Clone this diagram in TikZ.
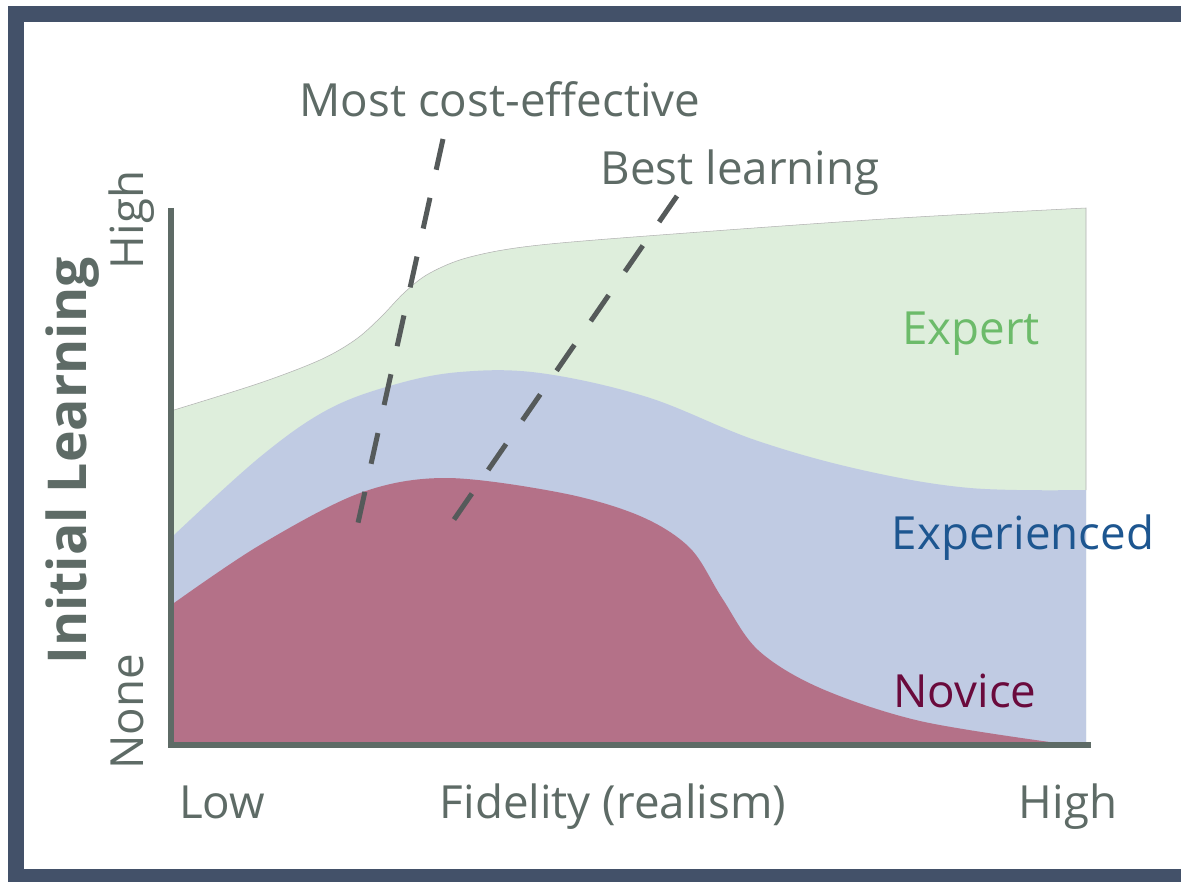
\documentclass[tikz,border=0pt]{standalone}
\usepackage{fontspec}
\setmainfont{Open Sans}
\usetikzlibrary{calc}
\definecolor{framecol}{HTML}{435169}
\definecolor{axiscol}{HTML}{5E6B66}
\definecolor{dashcol}{HTML}{555A5A}
\definecolor{expertfill}{HTML}{DEEEDC}
\definecolor{expfill}{HTML}{C0CBE3}
\definecolor{novfill}{HTML}{B47188}
\definecolor{experttext}{HTML}{6CBB6A}
\definecolor{exptext}{HTML}{1D5690}
\definecolor{novtext}{HTML}{6A0A3C}
\tikzset{
  lbl/.style={inner sep=1pt, anchor=base, text=axiscol, font=\fontsize{26}{29}\selectfont},
  cutline/.style={dashcol, line width=0.1cm, dash pattern=on 0.63cm off 0.575cm},
}

\begin{document}
\begin{tikzpicture}[x=0.02cm, y=-0.02cm]
\useasboundingbox (0,0) rectangle (1181,882);
% frame
\fill[framecol] (8,6) rectangle (1181,882);
\fill[white] (24,22) rectangle (1181,869);

% areas
\fill[expertfill] (174,745) -- plot[smooth, tension=0.55] coordinates {(174,410) (260,383) (320,360) (355,340) (380,318) (405,292) (430,273) (470,257) (540,245) (700,232) (900,218) (1086,208)} -- (1086,745) -- cycle;
\draw[gray!60, line width=0.3pt] plot[smooth, tension=0.55] coordinates {(174,410) (260,383) (320,360) (355,340) (380,318) (405,292) (430,273) (470,257) (540,245) (700,232) (900,218) (1086,208)} -- (1086,490);
\fill[expfill] (174,745) -- plot[smooth, tension=0.6] coordinates {(174,535) (260,457) (327,410) (393,385) (460,372) (540,373) (647,397) (755,440) (862,470) (970,488) (1086,490)} -- (1086,745) -- cycle;
\fill[novfill] (174,745) -- plot[smooth, tension=0.55] coordinates {(174,603) (260,545) (360,493) (446,478) (562,493) (640,516) (690,548) (722,598) (758,650) (820,688) (920,721) (1057,743)} -- cycle;

% axes
\draw[axiscol, line width=0.13cm] (171,208) -- (171,745) -- (1091,745);

% labels
\node[lbl] (mce) at (500,117) {Most cost-effective};
\node[lbl] (bl) at (740,185) {Best learning};
\node[lbl, text=experttext] (expert) at (971,344) {Expert};
\node[lbl, text=exptext] (experienced) at (1023,549) {Experienced};
\node[lbl, text=novtext] (novice) at (965,707) {Novice};
\node[lbl] (low) at (222,818) {Low};
\node[lbl] (fid) at (613,818) {Fidelity (realism)};
\node[lbl] (xhigh) at (1068,818) {High};
\node[lbl, rotate=90] (yhigh) at (143,220) {High};
\node[lbl, rotate=90] (ynone) at (143,712) {None};
\node[lbl, rotate=90, font=\fontsize{30.5}{33}\selectfont\bfseries] (ylab) at (86,461) {Initial Learning};

% dashed lines
\coordinate (mcetop) at (443,139);
\coordinate (mcebot) at (358,523);
\coordinate (bltop) at (677,196);
\coordinate (blbot) at (453,521);
\draw[cutline] (mcetop) -- (mcebot);
\draw[cutline] (bltop) -- (blbot);
\end{tikzpicture}
\end{document}
